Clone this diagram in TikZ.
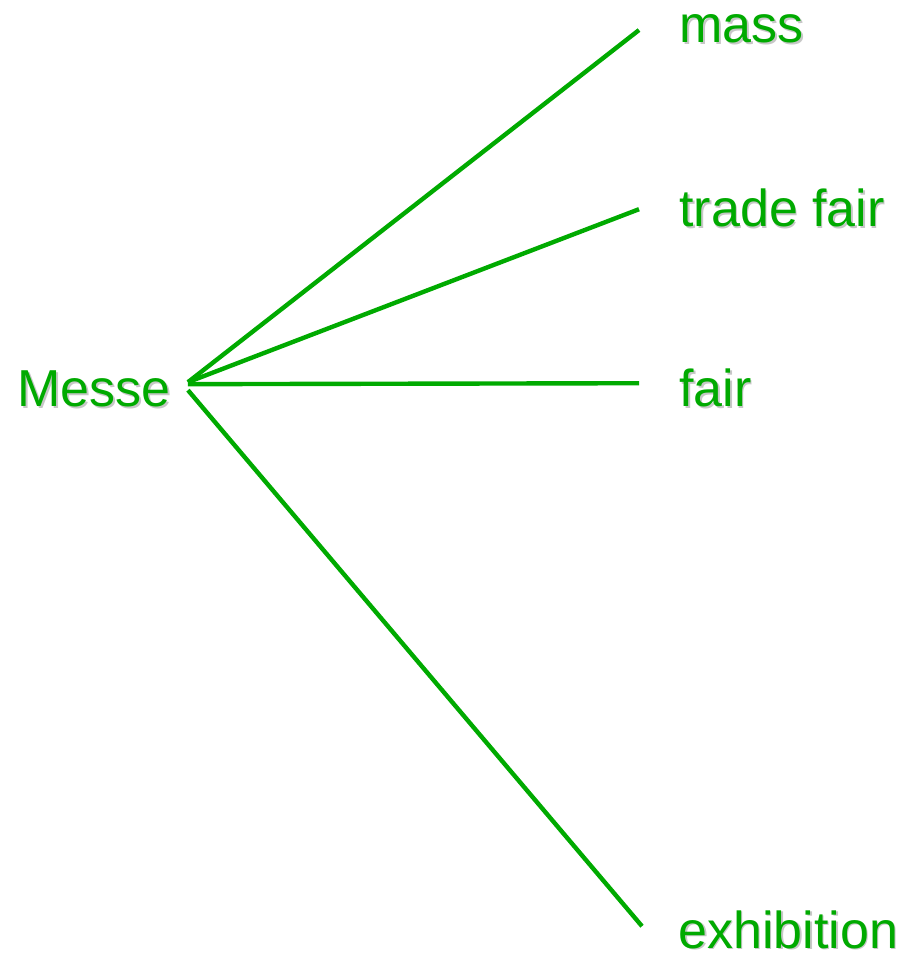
\documentclass[tikz,border=0pt]{standalone}
\usepackage{fontspec}
\setmainfont{Liberation Sans}
\usetikzlibrary{positioning}
\definecolor{wordgreen}{RGB}{0,170,0}
\newcommand{\shadowtext}[1]{\rlap{\hspace{0.8pt}\raisebox{-0.8pt}{\textcolor{black!22}{#1}}}#1}
\tikzset{
    word/.style = {anchor=base west, text=wordgreen, inner ysep=0pt, inner xsep=0pt, font=\fontsize{26}{30}\selectfont},
    branch/.style = {wordgreen, line width=2.2pt}
}

\begin{document}
\begin{tikzpicture}[x=0.5pt,y=-0.5pt]
\useasboundingbox (0,0) rectangle (908,961);
%
\node[word] at (17,407) (messe) {\shadowtext{Messe}};
\node[word] at (679,43) (mass) {\shadowtext{mass}};
\node[word] at (679,227) (tradefair) {\shadowtext{trade fair}};
\node[word] at (679,407) (fair) {\shadowtext{fair}};
\node[word] at (678,948) (exhibition) {\shadowtext{exhibition}};
%
\draw[branch] ([xshift=8.5pt,yshift=4pt]messe.east) edge node {} ([xshift=-20pt]mass.west);
\draw[branch] ([xshift=8.5pt,yshift=4pt]messe.east) edge node {} ([xshift=-20pt]tradefair.west);
\draw[branch] ([xshift=8.5pt,yshift=3pt]messe.east) edge node {} ([xshift=-20pt,yshift=3pt]fair.west);
\draw[branch] ([xshift=8.5pt]messe.east) edge node {} ([xshift=-18pt,yshift=2pt]exhibition.west);
\end{tikzpicture}
\end{document}
